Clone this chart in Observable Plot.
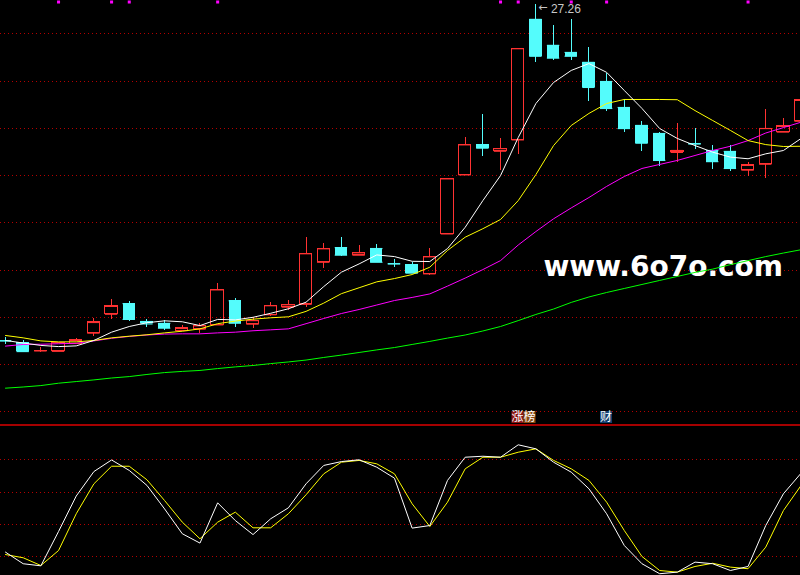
<!DOCTYPE html>
<html><head><meta charset="utf-8">
<script src="https://cdn.jsdelivr.net/npm/d3@7"></script>
<script src="https://cdn.jsdelivr.net/npm/@observablehq/plot@0.6"></script>
<style>
html,body{margin:0;padding:0;background:#000;overflow:hidden}
#chart svg{display:block}
</style></head><body><div id="chart"></div>
<script>
// ---- data ----
const opens  = [13.01,12.92,12.58,12.56,12.89,13.33,14.13,14.58,13.82,13.74,13.44,13.50,13.68,14.70,13.71,14.11,14.43,14.55,16.33,16.95,16.63,16.91,16.27,16.23,15.84,17.53,20.03,21.31,21.03,21.51,26.61,25.51,25.21,24.79,23.98,22.88,22.12,21.78,20.98,21.35,21.06,21.02,20.23,20.48,21.84,22.30];
const highs  = [13.16,13.02,12.72,12.95,13.12,13.96,14.75,14.67,13.91,13.85,13.64,13.72,15.42,14.78,14.00,14.61,14.70,17.37,17.12,17.37,17.04,17.08,16.43,16.32,16.91,19.86,21.61,22.58,21.58,25.37,27.26,26.35,26.61,25.42,24.31,23.23,22.29,21.82,22.20,22.00,21.27,21.27,20.55,22.80,22.42,23.25];
const lows   = [12.85,12.51,12.51,12.55,12.89,13.19,13.89,13.83,13.58,13.44,13.44,13.33,13.68,13.58,13.54,14.05,14.29,14.43,16.05,16.59,16.63,16.33,16.10,15.84,15.77,17.53,20.03,20.82,20.21,20.89,24.80,24.87,24.87,23.15,22.71,21.82,21.03,20.38,20.55,21.10,20.26,20.17,19.96,19.88,21.84,22.30];
const closes = [13.00,12.55,12.59,12.92,13.02,13.78,14.46,13.91,13.72,13.54,13.53,13.64,15.16,13.75,13.86,14.49,14.53,16.69,16.90,16.63,16.73,16.33,16.26,15.87,16.56,19.86,21.30,21.16,21.14,25.37,25.05,24.97,25.05,23.73,22.84,21.99,21.37,20.64,21.06,21.34,20.59,20.30,20.43,21.99,22.08,23.18];
const ma5  = [13.02,12.91,12.81,12.76,12.79,13.02,13.37,13.61,13.77,13.85,13.81,13.65,13.91,13.89,14.00,14.17,14.36,14.64,15.30,15.91,16.26,16.64,16.57,16.37,16.36,16.91,17.81,18.94,20.00,21.61,23.05,23.94,24.45,24.74,24.37,23.60,22.84,21.99,21.57,21.27,20.99,20.78,20.71,20.92,21.06,21.57];
const ma10 = [13.23,13.13,13.00,12.96,12.96,13.02,13.13,13.20,13.26,13.34,13.41,13.51,13.73,13.84,13.92,13.98,14.02,14.25,14.60,15.00,15.25,15.50,15.64,15.81,16.12,16.83,17.39,17.75,18.14,18.94,20.04,21.27,22.12,22.63,23.05,23.22,23.22,23.22,23.21,22.75,22.33,21.91,21.48,21.31,21.23,21.24];
const ma20 = [12.78,12.85,12.86,12.88,12.90,13.00,13.11,13.19,13.25,13.29,13.30,13.30,13.34,13.37,13.43,13.47,13.51,13.73,13.95,14.16,14.33,14.52,14.71,14.84,14.99,15.32,15.66,16.02,16.40,17.06,17.63,18.17,18.63,19.07,19.54,19.96,20.30,20.47,20.64,20.85,21.06,21.24,21.48,21.80,22.03,22.26];
const ma60 = [11.00,11.05,11.11,11.21,11.28,11.35,11.43,11.49,11.58,11.66,11.71,11.75,11.83,11.90,11.96,12.04,12.11,12.19,12.30,12.40,12.51,12.62,12.72,12.85,12.98,13.12,13.25,13.42,13.61,13.86,14.12,14.35,14.63,14.86,15.05,15.22,15.39,15.56,15.73,15.90,16.04,16.23,16.40,16.57,16.72,16.86];
const kLine = [22.7,15.5,14.2,35.5,57.5,72.7,79.9,73.4,64.1,49.5,34.1,28.3,53.3,42.3,33.6,43.4,50.2,65.1,76.5,78.9,80.0,75.4,68.6,37.6,39.2,67.2,81.6,82.2,81.6,89.3,86.8,78.5,72.3,62.0,46.5,26.8,15.5,9.3,10.3,16.5,15.5,11.3,13.8,39.2,58.9,71.7];
const dLine = [21.2,19.2,14.4,23.7,46.5,65.1,76.0,76.0,67.6,54.7,41.3,31.0,41.3,47.5,37.8,37.8,46.5,58.3,71.3,78.5,79.6,77.5,71.3,52.7,38.6,53.7,74.4,81.6,81.6,84.7,86.8,79.6,74.4,67.2,53.7,36.1,20.0,11.3,10.3,13.8,15.8,13.4,12.4,25.8,48.5,64.1];
const markerIdx = [3,6,7,12,28,29,32,34,42];
const priceGrid = [26,24,22,20,18,16,14,12,10];
const kdjGrid = [80,60,40,20];
const highIdx = 30;
const tags = [
  {i: 29, text: "涨", bg: "#8a1414", dx: -0.7},
  {i: 29, text: "榜", bg: "#8a4a12", dx: 11.3},
  {i: 34, text: "财", bg: "#123e6e", dx: -0.6}
];
const watermark = "www.6o7o.com";

// ---- styling / scales ----
const RED = "#ff3232", CYAN = "#54fcfc";
const step = 17.68, firstPx = 5;
const xDomain = [-firstPx / step, (800 - firstPx) / step];
const priceDomain = [9.462, 27.41];
const kdjDomain = [8.2, 101.9];
const grid = {stroke: "#b40000", strokeDasharray: "1,3", shapeRendering: "crispEdges"};
const hw = 0.35;

const candles = opens.map((o, i) => ({
  i, o, h: highs[i], l: lows[i], c: closes[i],
  up: closes[i] >= o,
  top: Math.max(o, closes[i]), bot: Math.min(o, closes[i])
}));
const ups = candles.filter(d => d.up);
const downs = candles.filter(d => !d.up);

function candleMarks(data, color, hollow) {
  return [
    Plot.ruleX(data, {x: "i", y1: "l", y2: "bot", stroke: color, strokeWidth: 1, shapeRendering: "crispEdges"}),
    Plot.ruleX(data, {x: "i", y1: "top", y2: "h", stroke: color, strokeWidth: 1, shapeRendering: "crispEdges"}),
    Plot.rect(data, {x1: d => d.i - hw, x2: d => d.i + hw, y1: "bot", y2: "top",
      fill: hollow ? "none" : color, stroke: hollow ? color : "none", strokeWidth: 1, shapeRendering: "crispEdges"}),
    Plot.ruleY(data, {y: "o", x1: d => d.i - hw, x2: d => d.i + hw, stroke: color, strokeWidth: 1.2}),
    Plot.ruleY(data, {y: "c", x1: d => d.i - hw, x2: d => d.i + hw, stroke: color, strokeWidth: 1.2})
  ];
}
const line = (arr, color) => Plot.line(arr, {x: (d, i) => i, y: d => d, stroke: color, strokeWidth: 1});

const tagMarks = tags.flatMap(t => [
  Plot.dot([t], {x: "i", dx: t.dx, frameAnchor: "bottom", dy: -7.5, symbol: "square", r: 6.8, fill: t.bg, stroke: "none"}),
  Plot.text([t], {x: "i", dx: t.dx, frameAnchor: "bottom", dy: -7.5, lineAnchor: "middle", text: "text",
    fill: "#fff", fontSize: 12, fontFamily: "Noto Sans CJK SC"})
]);

const main = Plot.plot({
  width: 800, height: 424, margin: 0,
  style: {background: "#000", overflow: "visible"},
  x: {domain: xDomain, axis: null},
  y: {domain: priceDomain, axis: null},
  marks: [
    Plot.ruleY(priceGrid, grid),
    Plot.text([watermark], {frameAnchor: "top-left", dx: 543, dy: 267, textAnchor: "start", lineAnchor: "middle",
      fill: "#fff", fontSize: 28, fontWeight: "bold", fontFamily: "DejaVu Sans"}),
    ...candleMarks(downs, CYAN, false),
    ...candleMarks(ups, RED, true),
    line(ma60, "#00ff00"),
    line(ma20, "#ff00ff"),
    line(ma10, "#ffff00"),
    line(ma5, "#ffffff"),
    Plot.dot(markerIdx, {x: d => d, frameAnchor: "top", dy: 1.5, symbol: "square", r: 1.7, fill: "#ff00ff", stroke: "none"}),
    Plot.text([candles[highIdx]], {x: "i", y: "h", text: () => "←", dx: 7, dy: 3, fill: "#c8c8c8", fontSize: 11, fontFamily: "DejaVu Sans"}),
    Plot.text([candles[highIdx]], {x: "i", y: "h", text: d => d.h.toFixed(2), dx: 15, dy: 5, textAnchor: "start",
      fill: "#c8c8c8", fontSize: 12, fontFamily: "Liberation Sans"}),
    ...tagMarks
  ]
});

const sub = Plot.plot({
  width: 800, height: 151, margin: 0,
  style: {background: "#000"},
  x: {domain: xDomain, axis: null},
  y: {domain: kdjDomain, axis: null},
  marks: [
    Plot.ruleY(kdjGrid, grid),
    Plot.ruleY([101.6], {stroke: "#dd0000", strokeWidth: 1.3}),
    line(dLine, "#ffff00"),
    line(kLine, "#ffffff")
  ]
});

const el = document.getElementById("chart");
el.appendChild(main);
el.appendChild(sub);
</script>
</body></html>
